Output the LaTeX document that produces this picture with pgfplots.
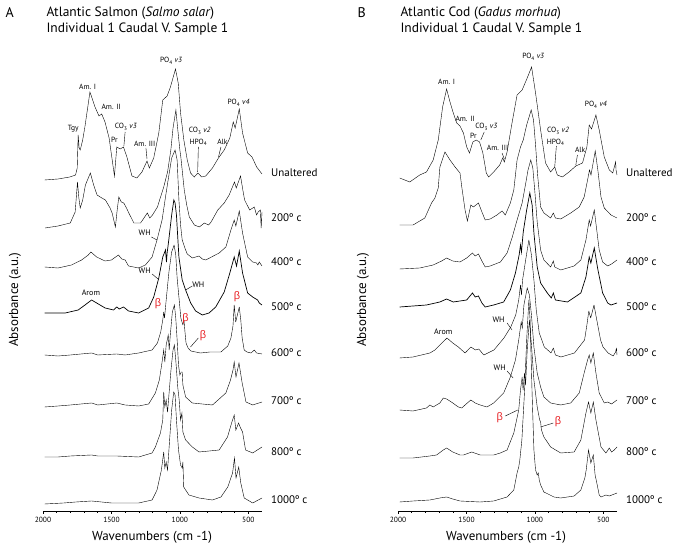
\documentclass[border=0pt]{standalone}
\usepackage{pgfplots}
\pgfplotsset{compat=1.18}
\usepackage{fontspec}
\setmainfont{PT Sans}
\newfontfamily\grk{Liberation Sans}
\definecolor{betared}{RGB}{232,38,42}

\newcommand{\sz}[1]{\fontsize{#1}{#1}\selectfont}
\newcommand{\bet}{\textcolor{betared}{\grk\fontsize{11}{12}\selectfont β}}
\newcommand{\POt}{PO\textsubscript{4} \textit{v3}}
\newcommand{\POf}{PO\textsubscript{4} \textit{v4}}

\pgfplotsset{spec/.style={
  scale only axis, width=219pt, height=471pt, anchor=south west,
  xmin=400, xmax=2000, x dir=reverse, ymin=-511, ymax=-40,
  axis x line*=bottom, axis y line=none, clip=false,
  xtick={500,1000,1500,2000}, minor x tick num=4, tick align=outside,
  major tick length=3pt, minor tick length=2pt,
  tick style={black, line width=0.5pt},
  axis line style={black, line width=0.6pt},
  ticklabel style={font=\sz{7.5}},
  /pgf/number format/assume math mode=true,
  /pgf/number format/1000 sep={},
  cycle list={{black, solid, mark=none, line width=0.7pt, line join=round}},
}}
\tikzset{ann/.style={font=\sz{7.5}, inner sep=0.5pt}, lead/.style={black, line width=0.4pt}}

\begin{document}
\begin{tikzpicture}
\path[use as bounding box] (0,0) rectangle (675pt,545pt);

% ---------- panel A: salmon ----------
\begin{axis}[spec, at={(43pt,34pt)}]
% unaltered
\addplot coordinates {(1988,-180)(1890,-179)(1804,-177)(1762,-175)(1750,-168)(1743,-135)(1736,-148)(1728,-150)(1710,-140)(1694,-127)(1657,-92)(1620,-107)(1591,-116)(1571,-114)(1547,-122)(1517,-138)(1478,-176)(1461,-147)(1436,-149)(1412,-147)(1387,-157)(1350,-176)(1314,-178)(1277,-172)(1240,-161)(1223,-168)(1191,-158)(1154,-133)(1125,-100)(1093,-96)(1069,-87)(1032,-69)(1012,-83)(995,-113)(971,-140)(946,-160)(922,-173)(895,-177)(868,-173)(841,-177)(811,-176)(762,-168)(718,-158)(676,-150)(635,-138)(610,-122)(596,-128)(566,-109)(542,-133)(505,-153)(473,-157)(439,-167)(400,-174)};
% 200
\addplot coordinates {(1985,-228)(1890,-226)(1801,-223)(1765,-212)(1748,-182)(1738,-198)(1728,-208)(1710,-200)(1690,-185)(1654,-173)(1630,-185)(1605,-195)(1570,-198)(1544,-200)(1510,-208)(1495,-213)(1471,-227)(1458,-210)(1446,-197)(1428,-202)(1410,-203)(1390,-208)(1373,-213)(1336,-223)(1287,-223)(1238,-213)(1220,-218)(1200,-215)(1164,-207)(1118,-187)(1090,-172)(1066,-150)(1050,-128)(1029,-110)(1015,-130)(1000,-150)(993,-157)(968,-190)(950,-205)(931,-217)(894,-225)(858,-227)(821,-223)(790,-225)(772,-222)(723,-210)(676,-203)(640,-195)(625,-190)(601,-182)(588,-188)(557,-176)(540,-190)(527,-200)(490,-210)(456,-207)(440,-215)(428,-212)(412,-210)(406,-228)(400,-212)};
% 400
\addplot coordinates {(1988,-267)(1890,-268)(1792,-265)(1718,-260)(1669,-255)(1650,-252)(1608,-257)(1547,-261)(1500,-260)(1449,-255)(1424,-259)(1400,-260)(1375,-266)(1301,-268)(1252,-265)(1203,-257)(1167,-240)(1130,-220)(1105,-197)(1080,-175)(1060,-158)(1035,-150)(1020,-160)(1007,-200)(995,-225)(983,-240)(958,-250)(946,-254)(909,-258)(860,-256)(836,-259)(811,-260)(713,-253)(664,-247)(627,-230)(603,-220)(591,-226)(566,-211)(542,-233)(505,-257)(468,-262)(440,-263)(430,-265)(420,-262)(400,-266)};
% 500
\addplot coordinates {(1988,-313)(1838,-313)(1743,-310)(1693,-305)(1645,-300)(1608,-303)(1546,-308)(1485,-310)(1461,-307)(1443,-309)(1412,-307)(1375,-311)(1301,-313)(1228,-308)(1191,-297)(1154,-278)(1125,-257)(1105,-250)(1098,-262)(1093,-253)(1081,-240)(1060,-215)(1044,-200)(1035,-203)(1025,-215)(1007,-257)(983,-280)(958,-290)(921,-303)(885,-311)(836,-315)(787,-313)(738,-307)(676,-292)(635,-273)(603,-257)(586,-266)(566,-251)(542,-273)(505,-293)(468,-297)(432,-300)(420,-303)(400,-305)};
% 600
\addplot coordinates {(1988,-355)(1890,-356)(1800,-355)(1645,-353)(1600,-355)(1461,-354)(1400,-355)(1301,-353)(1203,-350)(1164,-343)(1140,-332)(1125,-320)(1118,-312)(1112,-318)(1100,-300)(1080,-272)(1060,-252)(1042,-245)(1030,-255)(1020,-278)(1005,-300)(993,-318)(978,-325)(970,-320)(962,-333)(955,-343)(940,-348)(920,-351)(850,-353)(780,-352)(700,-352)(650,-346)(627,-338)(612,-326)(603,-305)(592,-322)(566,-307)(555,-320)(545,-338)(530,-350)(510,-352)(480,-353)(456,-350)(440,-353)(400,-354)};
% 700
\addplot coordinates {(1988,-407)(1890,-406)(1800,-405)(1645,-403)(1600,-405)(1461,-403)(1400,-405)(1301,-406)(1228,-404)(1179,-393)(1150,-380)(1130,-362)(1118,-350)(1110,-362)(1100,-345)(1085,-335)(1078,-350)(1070,-335)(1055,-312)(1040,-305)(1030,-318)(1020,-340)(1010,-365)(1000,-375)(990,-372)(983,-372)(978,-385)(958,-397)(909,-403)(762,-405)(664,-393)(630,-380)(612,-370)(603,-362)(590,-377)(568,-363)(545,-383)(517,-402)(468,-405)(400,-402)};
% 800
\addplot coordinates {(1988,-457)(1890,-457)(1800,-456)(1645,-455)(1600,-456)(1461,-456)(1301,-457)(1203,-453)(1179,-447)(1142,-433)(1125,-420)(1118,-392)(1110,-407)(1100,-400)(1090,-412)(1080,-395)(1065,-370)(1050,-350)(1040,-345)(1030,-360)(1015,-388)(1005,-400)(995,-420)(985,-413)(978,-432)(958,-440)(909,-447)(860,-452)(713,-450)(652,-437)(622,-423)(603,-415)(591,-430)(571,-423)(560,-427)(542,-432)(520,-450)(468,-453)(400,-447)};
% 1000
\addplot coordinates {(1988,-504)(1850,-503)(1760,-502)(1645,-501)(1500,-503)(1301,-503)(1203,-500)(1167,-490)(1135,-470)(1118,-452)(1110,-468)(1100,-462)(1090,-470)(1075,-440)(1060,-410)(1045,-392)(1035,-395)(1025,-420)(1010,-450)(995,-465)(983,-468)(978,-462)(972,-487)(934,-495)(860,-498)(762,-500)(700,-497)(650,-487)(615,-473)(601,-458)(590,-478)(570,-467)(555,-483)(530,-498)(468,-503)(400,-498)};

\node[ann] at (axis cs:1064,-61) {\POt};
\node[ann] at (axis cs:1674,-87) {Am. I};
\node[ann] at (axis cs:1502,-107) {Am. II};
\node[ann] at (axis cs:1779,-129) {Tgy};
\node[ann] at (axis cs:1395,-127) {CO\textsubscript{3} \textit{v3}};
\node[ann] at (axis cs:1478,-140) {Pr};
\node[ann] at (axis cs:1257,-144) {Am. III};
\node[ann] at (axis cs:855,-131) {CO\textsubscript{3} \textit{v2}};
\node[ann] at (axis cs:865,-142) {HPO\textsubscript{4}};
\node[ann] at (axis cs:689,-142) {Alk};
\node[ann] at (axis cs:571,-103) {\POf};
\draw[lead] (axis cs:1400,-132) -- (axis cs:1409,-146);
\draw[lead] (axis cs:1248,-148) -- (axis cs:1240,-159);
\draw[lead] (axis cs:865,-147) -- (axis cs:870,-172);
\draw[lead] (axis cs:700,-147) -- (axis cs:718,-157);
\node[ann, font=\sz{8}] at (axis cs:1257,-233) {WH};
\draw[lead] (axis cs:1208,-237) -- (axis cs:1167,-240);
\node[ann, font=\sz{8}] at (axis cs:1257,-271) {WH};
\draw[lead] (axis cs:1203,-274) -- (axis cs:1159,-279);
\node[ann, font=\sz{8}] at (axis cs:865,-285) {WH};
\draw[lead] (axis cs:909,-286) -- (axis cs:958,-290);
\node[ann, font=\sz{8}] at (axis cs:1650,-293) {Arom};
\node at (axis cs:1159,-304) {\bet};
\node at (axis cs:958,-319) {\bet};
\node at (axis cs:831,-336) {\bet};
\draw[lead] (axis cs:865,-338) -- (axis cs:922,-347);
\node at (axis cs:583,-297) {\bet};
\end{axis}

% ---------- panel B: cod ----------
\begin{axis}[spec, at={(398pt,34pt)}]
% unaltered
\addplot coordinates {(1988,-178)(1914,-182)(1841,-175)(1792,-172)(1743,-160)(1706,-140)(1674,-107)(1645,-89)(1620,-102)(1596,-113)(1571,-123)(1547,-126)(1522,-133)(1498,-147)(1478,-153)(1453,-142)(1429,-140)(1404,-142)(1380,-153)(1355,-173)(1338,-177)(1301,-172)(1257,-165)(1235,-158)(1223,-162)(1203,-152)(1167,-123)(1130,-95)(1093,-90)(1056,-78)(1024,-67)(995,-93)(958,-130)(922,-163)(885,-172)(855,-167)(836,-175)(799,-177)(750,-172)(701,-166)(652,-163)(620,-147)(603,-125)(586,-129)(554,-115)(530,-130)(493,-157)(456,-170)(431,-173)(410,-162)(407,-170)(400,-175)};
% 200
\addplot coordinates {(1988,-225)(1890,-225)(1804,-218)(1755,-203)(1730,-198)(1706,-188)(1694,-167)(1657,-152)(1620,-160)(1583,-167)(1547,-173)(1534,-187)(1510,-210)(1493,-221)(1468,-205)(1449,-207)(1412,-203)(1387,-212)(1363,-220)(1326,-219)(1277,-215)(1240,-211)(1216,-215)(1179,-203)(1154,-190)(1130,-160)(1105,-147)(1085,-140)(1060,-125)(1027,-110)(1010,-120)(995,-145)(980,-175)(958,-207)(934,-213)(885,-218)(865,-213)(850,-218)(811,-219)(738,-213)(676,-207)(640,-197)(615,-180)(601,-170)(590,-175)(559,-151)(540,-170)(517,-197)(493,-208)(444,-215)(400,-218)};
% 400
\addplot coordinates {(1988,-269)(1841,-268)(1743,-265)(1681,-261)(1645,-258)(1600,-261)(1547,-262)(1498,-258)(1456,-253)(1436,-256)(1412,-254)(1387,-261)(1363,-267)(1326,-266)(1252,-262)(1203,-253)(1167,-238)(1130,-220)(1093,-203)(1069,-185)(1050,-170)(1030,-160)(1015,-168)(1000,-192)(983,-222)(958,-250)(934,-260)(885,-267)(865,-261)(855,-267)(811,-270)(713,-266)(664,-260)(627,-240)(603,-220)(593,-226)(566,-210)(548,-230)(530,-250)(505,-262)(468,-266)(440,-264)(400,-260)};
% 500
\addplot coordinates {(1988,-307)(1792,-305)(1694,-302)(1645,-299)(1596,-302)(1498,-300)(1456,-293)(1436,-297)(1412,-296)(1387,-303)(1363,-307)(1301,-305)(1228,-302)(1179,-290)(1142,-273)(1115,-255)(1105,-245)(1098,-252)(1085,-232)(1060,-210)(1037,-193)(1020,-205)(1007,-233)(983,-267)(958,-283)(909,-293)(880,-298)(865,-293)(850,-300)(762,-302)(664,-293)(627,-277)(603,-257)(591,-263)(566,-248)(542,-268)(505,-293)(468,-303)(444,-305)(400,-303)};
% 600
\addplot coordinates {(1988,-358)(1890,-357)(1767,-353)(1730,-350)(1694,-345)(1642,-338)(1600,-343)(1559,-347)(1510,-353)(1468,-347)(1434,-350)(1410,-349)(1373,-355)(1299,-350)(1226,-338)(1176,-327)(1140,-315)(1118,-300)(1105,-285)(1098,-295)(1090,-280)(1065,-258)(1044,-240)(1025,-255)(1007,-280)(990,-310)(968,-333)(931,-347)(882,-353)(865,-348)(850,-355)(809,-357)(711,-353)(637,-340)(620,-325)(606,-311)(592,-318)(568,-305)(545,-322)(520,-340)(502,-347)(465,-353)(428,-356)(410,-352)(404,-348)(400,-355)};
% 700
\addplot coordinates {(1988,-410)(1890,-411)(1792,-408)(1767,-405)(1743,-407)(1694,-403)(1669,-398)(1645,-399)(1610,-402)(1559,-407)(1534,-408)(1510,-405)(1468,-400)(1436,-403)(1400,-405)(1350,-407)(1301,-403)(1228,-393)(1179,-377)(1142,-360)(1118,-340)(1100,-322)(1092,-328)(1080,-305)(1056,-288)(1040,-295)(1025,-315)(1007,-347)(983,-373)(958,-387)(934,-397)(885,-403)(811,-405)(738,-403)(676,-393)(640,-373)(615,-360)(603,-355)(591,-363)(573,-353)(554,-373)(530,-393)(493,-403)(468,-402)(440,-404)(400,-400)};
% 800
\addplot coordinates {(1988,-458)(1890,-458)(1767,-456)(1718,-455)(1669,-450)(1645,-448)(1600,-452)(1547,-455)(1522,-455)(1461,-452)(1400,-455)(1301,-455)(1252,-453)(1203,-450)(1154,-433)(1118,-410)(1105,-390)(1093,-377)(1086,-390)(1076,-373)(1068,-385)(1056,-350)(1040,-320)(1025,-345)(1007,-380)(983,-407)(965,-420)(958,-422)(952,-430)(934,-437)(885,-447)(811,-453)(713,-452)(664,-440)(627,-413)(608,-402)(591,-413)(573,-402)(554,-420)(517,-447)(481,-453)(456,-448)(440,-452)(420,-450)(400,-447)};
% 1000
\addplot coordinates {(1988,-502)(1890,-501)(1767,-500)(1694,-498)(1645,-497)(1600,-499)(1547,-501)(1400,-502)(1301,-501)(1203,-497)(1154,-490)(1130,-473)(1118,-467)(1110,-460)(1095,-440)(1075,-390)(1060,-340)(1044,-300)(1035,-320)(1020,-395)(1007,-450)(995,-470)(983,-475)(975,-473)(968,-480)(958,-485)(934,-492)(860,-497)(811,-498)(713,-496)(664,-490)(645,-482)(635,-478)(625,-470)(608,-450)(591,-463)(573,-455)(560,-475)(549,-482)(530,-495)(517,-497)(481,-495)(456,-496)(400,-493)};

\node[ann] at (axis cs:1012,-57) {\POt};
\node[ann] at (axis cs:1645,-82) {Am. I};
\node[ann] at (axis cs:1510,-119) {Am. II};
\node[ann] at (axis cs:1449,-136) {Pr};
\node[ann] at (axis cs:1355,-127) {CO\textsubscript{3} \textit{v3}};
\draw[lead] (axis cs:1370,-132) -- (axis cs:1395,-140);
\node[ann] at (axis cs:1272,-148) {Am. III};
\draw[lead] (axis cs:1240,-153) -- (axis cs:1223,-159);
\node[ann] at (axis cs:831,-131) {CO\textsubscript{3} \textit{v2}};
\node[ann] at (axis cs:848,-142) {HPO\textsubscript{4}};
\draw[lead] (axis cs:843,-146) -- (axis cs:855,-167);
\node[ann] at (axis cs:669,-150) {Alk};
\draw[lead] (axis cs:689,-155) -- (axis cs:701,-165);
\node[ann] at (axis cs:554,-105) {\POf};
\node[ann, font=\sz{8}] at (axis cs:1669,-332) {Arom};
\node[ann, font=\sz{8}] at (axis cs:1265,-320) {WH};
\draw[lead] (axis cs:1203,-323) -- (axis cs:1167,-330);
\node[ann, font=\sz{8}] at (axis cs:1257,-368) {WH};
\draw[lead] (axis cs:1203,-371) -- (axis cs:1159,-378);
\node at (axis cs:1257,-418) {\bet};
\draw[lead] (axis cs:1216,-416) -- (axis cs:1125,-410);
\node at (axis cs:831,-422) {\bet};
\draw[lead] (axis cs:865,-423) -- (axis cs:958,-427);
\end{axis}

% titles
\node[anchor=west, font=\sz{14}] at (2pt,532pt) {A};
\node[anchor=west, font=\sz{13.5}] at (43pt,532pt) {Atlantic Salmon (\textit{Salmo salar})};
\node[anchor=west, font=\sz{13.5}] at (43pt,516pt) {Individual 1 Caudal V. Sample 1};
\node[anchor=west, font=\sz{14}] at (354pt,532pt) {B};
\node[anchor=west, font=\sz{13.5}] at (397pt,532pt) {Atlantic Cod (\textit{Gadus morhua})};
\node[anchor=west, font=\sz{13.5}] at (397pt,516pt) {Individual 1 Caudal V. Sample 1};

% axis titles
\node[rotate=90, font=\sz{13}] at (15pt,245pt) {Absorbance (a.u.)};
\node[rotate=90, font=\sz{13}] at (363pt,245pt) {Absorbance (a.u.)};
\node[font=\sz{13}] at (152pt,8pt) {Wavenumbers (cm -1)};
\node[font=\sz{13}] at (506pt,8pt) {Wavenumbers (cm -1)};

% temperature labels
\foreach \y/\t in {372/Unaltered, 327/200º c, 283/400º c, 238/500º c, 192/600º c, 144/700º c, 93/800º c, 45/1000º c}{
  \node[anchor=west, font=\sz{11}, inner sep=0pt] at (271pt,\y pt) {\t};
  \node[anchor=west, font=\sz{11}, inner sep=0pt] at (626pt,\y pt) {\t};
}
\end{tikzpicture}
\end{document}
